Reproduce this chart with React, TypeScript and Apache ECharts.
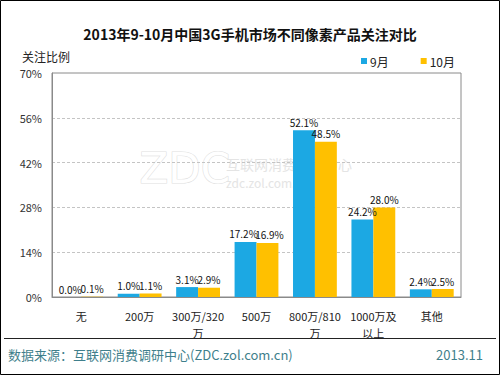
import React, { useEffect, useRef } from "react";
import * as echarts from "echarts";

const categories = ["无", "200万", "300万/320\n万", "500万", "800万/810\n万", "1000万及\n以上", "其他"];
const sep = [0.0, 1.0, 3.1, 17.2, 52.1, 24.2, 2.4];
const oct = [0.1, 1.1, 2.9, 16.9, 48.5, 28.0, 2.5];
const seriesNames = ["9月", "10月"];
const yTicks = { min: 0, max: 70, interval: 14 };

const FONT = "'Noto Sans CJK SC', 'DejaVu Sans', sans-serif";

export default function App() {
  const ref = useRef<HTMLDivElement>(null);
  useEffect(() => {
    document.body.style.margin = "0";
    const chart = echarts.init(ref.current!, null, { renderer: "svg" });
    const label = {
      show: true,
      position: "top" as const,
      color: "#111",
      fontSize: 10,
      fontFamily: FONT,
      distance: 3,
      formatter: (p: any) => Number(p.value).toFixed(1) + "%",
    };
    const sepData = sep.map((v, i) => (i === 3 ? { value: v, label: { offset: [-2, 0] } } : v));
    const octData = oct.map((v, i) => (i === 3 ? { value: v, label: { offset: [2, 0] } } : v));
    chart.setOption({
      animation: false,
      backgroundColor: "#fff",
      textStyle: { fontFamily: FONT },
      title: {
        text: "2013年9-10月中国3G手机市场不同像素产品关注对比",
        left: "center",
        top: 22,
        textStyle: { fontSize: 14, fontWeight: "bold", color: "#111", fontFamily: FONT },
      },
      legend: {
        right: 40,
        top: 50,
        itemWidth: 6,
        itemHeight: 6,
        itemGap: 32,
        icon: "rect",
        textStyle: { fontSize: 12, color: "#222", fontFamily: FONT, padding: [0, 0, 0, -2] },
        data: seriesNames,
      },
      grid: {
        left: 52,
        right: 39,
        top: 73,
        bottom: 78,
        show: true,
        borderColor: "#8a8a8a",
        borderWidth: 1,
      },
      xAxis: {
        type: "category",
        data: categories,
        axisLine: { lineStyle: { color: "#8a8a8a" } },
        axisTick: { show: false },
        axisLabel: { color: "#222", fontSize: 11, lineHeight: 17, margin: 10, interval: 0, fontFamily: FONT },
      },
      yAxis: {
        type: "value",
        min: yTicks.min,
        max: yTicks.max,
        interval: yTicks.interval,
        name: "关注比例",
        nameLocation: "end",
        nameGap: 11,
        nameTextStyle: { color: "#222", fontSize: 12, align: "center", padding: [0, 0, 0, -12], fontFamily: FONT },
        axisLine: { show: true, lineStyle: { color: "#8a8a8a" } },
        axisTick: { show: false },
        axisLabel: { formatter: "{value}%", color: "#333", fontSize: 11, margin: 10, fontFamily: FONT },
        splitLine: { lineStyle: { color: "#c4c4c4", type: [3, 2] } },
      },
      series: [
        {
          name: seriesNames[0],
          type: "bar",
          data: sepData,
          barGap: "0%",
          barCategoryGap: "25%",
          itemStyle: { color: "#1CA8E3" },
          label,
        },
        {
          name: seriesNames[1],
          type: "bar",
          data: octData,
          itemStyle: { color: "#FFC000" },
          label,
        },
      ],
      graphic: [
        {
          type: "text",
          left: 139,
          top: 147,
          silent: true,
          z: -1,
          style: { text: "ZDC", fontSize: 42, fontFamily: "'DejaVu Sans', sans-serif", fill: "#fff", stroke: "#e0e0e0", lineWidth: 1.2 },
        },
        {
          type: "text",
          left: 226,
          top: 157,
          silent: true,
          z: -1,
          style: { text: "互联网消费调研中心", fontSize: 14, lineHeight: 14, fontFamily: FONT, fill: "#e4e4e4" },
        },
        {
          type: "text",
          left: 226,
          top: 176,
          silent: true,
          z: -1,
          style: { text: "zdc.zol.com.cn", fontSize: 12, lineHeight: 12, fontFamily: FONT, fill: "#e4e4e4" },
        },
        {
          type: "line",
          shape: { x1: 4, y1: 338.5, x2: 496, y2: 338.5 },
          style: { stroke: "#222", lineWidth: 1 },
        },
        {
          type: "text",
          left: 8,
          top: 348,
          style: { text: "数据来源：互联网消费调研中心(ZDC.zol.com.cn)", fontSize: 13, fontFamily: FONT, fill: "#3f7f8c" },
        },
        {
          type: "text",
          right: 17,
          top: 348,
          style: { text: "2013.11", fontSize: 13, fontFamily: FONT, fill: "#3f7f8c" },
        },
        {
          type: "rect",
          shape: { x: 0.5, y: 0.5, width: 499, height: 374 },
          style: { fill: "none", stroke: "#000", lineWidth: 1 },
        },
      ],
    });
    return () => chart.dispose();
  }, []);
  return <div ref={ref} style={{ position: "absolute", left: 0, top: 0, width: 500, height: 375 }} />;
}
